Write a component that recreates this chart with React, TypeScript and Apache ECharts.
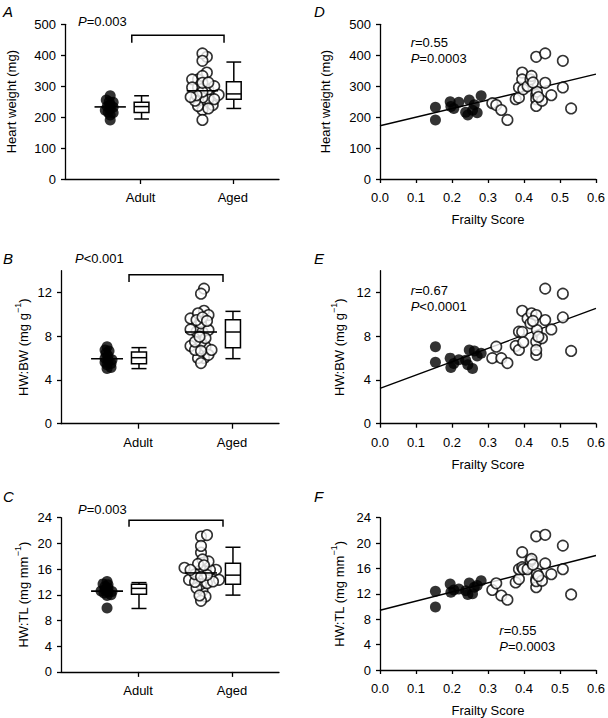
import React, { useEffect, useRef } from "react";
import * as echarts from "echarts";

const FONT = "'Liberation Sans', Arial, Helvetica, sans-serif";

// ---------------- data ----------------
const groupNames = ["Adult", "Aged"];

const frailtyAdult = [0.154, 0.154, 0.195, 0.197, 0.205, 0.219, 0.238, 0.248, 0.244, 0.257, 0.262, 0.27, 0.281];
const heartWeightAdult = [232, 191, 250, 234, 228, 248, 216, 255, 207, 222, 240, 214, 269];
const hwBwAdult = [7.05, 5.63, 6.0, 5.15, 5.5, 5.85, 5.8, 6.75, 5.4, 5.05, 6.66, 6.2, 6.45];
const hwTlAdult = [12.42, 9.93, 13.55, 12.27, 12.6, 12.78, 12.5, 13.7, 11.9, 12.0, 13.04, 13.3, 14.07];

const frailtyAged = [0.312, 0.323, 0.337, 0.354, 0.377, 0.386, 0.386, 0.395, 0.395, 0.398, 0.41, 0.418, 0.421, 0.434, 0.434, 0.434, 0.434, 0.436, 0.45, 0.459, 0.459, 0.476, 0.508, 0.508, 0.531, 0.425, 0.44];
const heartWeightAged = [245, 239, 223, 191, 258, 263, 296, 344, 322, 290, 300, 322, 333, 395, 272, 258, 236, 282, 253, 406, 311, 271, 382, 296, 228, 312, 265];
const hwBwAged = [6.0, 7.05, 6.0, 5.55, 7.12, 6.75, 8.42, 10.33, 8.4, 7.45, 9.63, 9.18, 10.1, 9.94, 7.5, 6.3, 6.75, 8.57, 7.82, 12.36, 9.48, 8.63, 11.9, 9.73, 6.66, 9.4, 7.96];
const hwTlAged = [12.62, 13.66, 11.74, 11.07, 13.8, 14.33, 15.88, 18.57, 16.2, 15.9, 15.88, 17.2, 17.5, 21.06, 14.33, 13.04, 14.0, 15.2, 14.07, 21.3, 16.8, 15.1, 19.6, 15.88, 11.9, 16.6, 14.8];

// box plots: [min, q1, median, q3, max] for Adult, Aged
const boxHeartWeight = [[194, 215, 234, 248, 269], [228, 258, 275, 314, 378]];
const boxHwBw = [[5.04, 5.49, 6.04, 6.56, 6.96], [5.95, 6.96, 8.39, 9.52, 10.28]];
const boxHwTl = [[9.87, 12.1, 13.0, 13.66, 13.9], [11.95, 13.66, 15.06, 16.9, 19.4]];

// median lines drawn through the dot clouds
const dotMedianHeartWeight = [233, 285];
const dotMedianHwBw = [5.95, 8.39];
const dotMedianHwTl = [12.57, 15.4];

// regression fits (intercept, slope) for D, E, F
const fitIntercept = [172, 3.24, 9.41];
const fitSlope = [278, 12.2, 14.4];

// tick labels
const yTicksHeartWeight = [0, 100, 200, 300, 400, 500];
const yTicksHwBw = [0, 4, 8, 12];
const yTicksHwTl = [0, 4, 8, 12, 16, 20, 24];
const frailtyTicks = [0, 0.1, 0.2, 0.3, 0.4, 0.5, 0.6];

// statistics text
const groupP = ["=0.003", "<0.001", "=0.003"];
const corrR = ["=0.55", "=0.67", "=0.55"];
const corrP = ["=0.0003", "<0.0001", "=0.0003"];

// ---------------- layout ----------------
const LEFT_COL = 61;
const RIGHT_COL = 380;
const COL_W = 218;
const ROWS = [
  { top: 24.3, h: 154.7 },
  { top: 270.7, h: 153.0 },
  { top: 517.7, h: 154.2 },
];
const GX_MIN = 0.18;
const GX_MAX = 2.5;
const X_PX = COL_W / (GX_MAX - GX_MIN);
const DOT_SHIFT = -0.33;
const MED_HALF = 0.17;
const BOX_HALF = 0.08;
const BRACKET_X = [0.904, 1.904];

function swarm(values: number[], yScale: number, minDist: number, step: number): number[] {
  const order = values.map((_, i) => i).sort((a, b) => values[a] - values[b]);
  const placed: { o: number; y: number }[] = [];
  const offsets = new Array(values.length).fill(0);
  for (const i of order) {
    const y = values[i] * yScale;
    for (let k = 0; k < 400; k++) {
      const o = (k % 2 === 1 ? 1 : -1) * Math.ceil(k / 2) * step;
      const ok = placed.every((p) => (p.o - o) ** 2 + (p.y - y) ** 2 >= minDist * minDist);
      if (ok) {
        offsets[i] = o;
        placed.push({ o, y });
        break;
      }
    }
  }
  return offsets;
}

const axisLineStyle = { color: "#000", width: 1.3 };
const labelStyle = { color: "#000", fontSize: 13, fontFamily: FONT };

function buildOption() {
  const grids: any[] = [];
  const xAxes: any[] = [];
  const yAxes: any[] = [];
  const series: any[] = [];
  const graphics: any[] = [];

  const panels = [
    { adult: heartWeightAdult, aged: heartWeightAged, box: boxHeartWeight, med: dotMedianHeartWeight, max: 500, ticks: yTicksHeartWeight, name: "Heart weight (mg)", gapL: 44, gapR: 45, bracket: [465, 440] },
    { adult: hwBwAdult, aged: hwBwAged, box: boxHwBw, med: dotMedianHwBw, max: 14, ticks: yTicksHwBw, name: "HW:BW (mg g{sup|\u22121})", gapL: 19, gapR: 31, bracket: [13.64, 12.97] },
    { adult: hwTlAdult, aged: hwTlAged, box: boxHwTl, med: dotMedianHwTl, max: 24, ticks: yTicksHwTl, name: "HW:TL (mg mm{sup|\u22121})", gapL: 26, gapR: 31, bracket: [23.6, 22.6] },
  ];
  const letters = [["A", "D"], ["B", "E"], ["C", "F"]];
  const pTextPos = [[78, 21], [75, 258], [78, 509]];
  const corrPos = [[410.7, 42.5], [410.7, 290.8], [499.3, 630.8]];
  const letterY = [11.7, 258, 496.7];

  panels.forEach((pnl, r) => {
    const row = ROWS[r];
    const gL = r;
    const gR = r + 3;
    grids[gL] = { left: LEFT_COL, top: row.top, width: COL_W, height: row.h };
    grids[gR] = { left: RIGHT_COL, top: row.top, width: COL_W, height: row.h };

    const yAxisBase = (grid: number, gap: number) => ({
      gridIndex: grid,
      type: "value",
      min: 0,
      max: pnl.max,
      axisLine: { show: true, onZero: false, lineStyle: axisLineStyle },
      axisTick: { show: true, customValues: pnl.ticks, length: 4, lineStyle: axisLineStyle },
      axisLabel: { customValues: pnl.ticks, margin: 9, ...labelStyle },
      splitLine: { show: false },
      name: pnl.name,
      nameLocation: "middle",
      nameGap: gap,
      nameTextStyle: {
        ...labelStyle,
        lineHeight: 20,
        rich: { sup: { fontSize: 9, lineHeight: 12, verticalAlign: "top", fontFamily: FONT, color: "#000" } },
      },
    });
    yAxes[gL] = yAxisBase(gL, pnl.gapL);
    yAxes[gR] = yAxisBase(gR, pnl.gapR);

    xAxes[gL] = {
      gridIndex: gL,
      type: "value",
      min: GX_MIN,
      max: GX_MAX,
      axisLine: { show: true, onZero: false, lineStyle: axisLineStyle },
      axisTick: { show: true, customValues: [1, 2], length: 5, lineStyle: axisLineStyle },
      axisLabel: { customValues: [1, 2], margin: 12, formatter: (v: number) => groupNames[Math.round(v) - 1], ...labelStyle },
      splitLine: { show: false },
    };
    xAxes[gR] = {
      gridIndex: gR,
      type: "value",
      min: 0,
      max: 0.6,
      axisLine: { show: true, onZero: false, lineStyle: axisLineStyle },
      axisTick: { show: true, customValues: frailtyTicks, length: 4, lineStyle: axisLineStyle },
      axisLabel: { customValues: frailtyTicks, margin: 12, formatter: (v: number) => v.toFixed(1), ...labelStyle },
      splitLine: { show: false },
      name: "Frailty Score",
      nameLocation: "middle",
      nameGap: 34,
      nameTextStyle: labelStyle,
    };

    // ---- dot plots (left column) ----
    const yScale = row.h / pnl.max;
    const offA = swarm(pnl.adult, yScale, 3.2, 1);
    const offB = swarm(pnl.aged, yScale, 5.5, 1.5);
    series.push({
      type: "scatter",
      xAxisIndex: gL,
      yAxisIndex: gL,
      symbol: "circle",
      symbolSize: 11,
      itemStyle: { color: "#000" },
      data: pnl.adult.map((v, i) => [1 + DOT_SHIFT + offA[i] / X_PX, v]),
      z: 3,
    });
    series.push({
      type: "scatter",
      xAxisIndex: gL,
      yAxisIndex: gL,
      symbol: "circle",
      symbolSize: 10.5,
      itemStyle: { color: "#fff", borderColor: "#000", borderWidth: 1.6 },
      data: pnl.aged.map((v, i) => [2 + DOT_SHIFT + offB[i] / X_PX, v]),
      z: 3,
    });
    // median lines through dots
    series.push({
      type: "custom",
      xAxisIndex: gL,
      yAxisIndex: gL,
      clip: false,
      z: 4,
      encode: { x: 0, y: 1 },
      data: pnl.med.map((m, i) => [i + 1 + DOT_SHIFT, m]),
      renderItem: (_p: any, api: any) => {
        const c = api.value(0);
        const v = api.value(1);
        const a = api.coord([c - MED_HALF, v]);
        const b = api.coord([c + MED_HALF, v]);
        return { type: "line", shape: { x1: a[0], y1: a[1], x2: b[0], y2: b[1] }, style: { stroke: "#000", lineWidth: 1.6 } };
      },
    });
    // box plots
    series.push({
      type: "custom",
      xAxisIndex: gL,
      yAxisIndex: gL,
      clip: false,
      z: 4,
      encode: { x: 0, y: [1, 2, 3, 4, 5] },
      data: pnl.box.map((b, i) => [i + 1.01, ...b]),
      renderItem: (_p: any, api: any) => {
        const x = api.value(0);
        const lo = api.value(1), q1 = api.value(2), md = api.value(3), q3 = api.value(4), hi = api.value(5);
        const L = (y: number) => api.coord([x - BOX_HALF, y]);
        const R = (y: number) => api.coord([x + BOX_HALF, y]);
        const C = (y: number) => api.coord([x, y]);
        const st = { stroke: "#000", lineWidth: 1.5, fill: "none" };
        const seg = (p: number[], q: number[]) => ({ type: "line", shape: { x1: p[0], y1: p[1], x2: q[0], y2: q[1] }, style: st });
        return {
          type: "group",
          children: [
            { type: "rect", shape: { x: L(q3)[0], y: L(q3)[1], width: R(q3)[0] - L(q3)[0], height: L(q1)[1] - L(q3)[1] }, style: { ...st, fill: "#fff" } },
            seg(L(md), R(md)),
            seg(C(q3), C(hi)),
            seg(L(hi), R(hi)),
            seg(C(q1), C(lo)),
            seg(L(lo), R(lo)),
          ],
        };
      },
    });
    // significance bracket
    series.push({
      type: "custom",
      xAxisIndex: gL,
      yAxisIndex: gL,
      clip: false,
      z: 4,
      encode: { x: [0, 1], y: [2, 3] },
      data: [[BRACKET_X[0], BRACKET_X[1], pnl.bracket[0], pnl.bracket[1]]],
      renderItem: (_p: any, api: any) => {
        const x1 = api.value(0), x2 = api.value(1), yt = api.value(2), ye = api.value(3);
        return {
          type: "polyline",
          shape: { points: [api.coord([x1, ye]), api.coord([x1, yt]), api.coord([x2, yt]), api.coord([x2, ye])] },
          style: { stroke: "#000", lineWidth: 1.5, fill: "none" },
        };
      },
    });

    // ---- scatter with regression (right column) ----
    const yR = r === 0 ? [heartWeightAdult, heartWeightAged] : r === 1 ? [hwBwAdult, hwBwAged] : [hwTlAdult, hwTlAged];
    series.push({
      type: "line",
      xAxisIndex: gR,
      yAxisIndex: gR,
      showSymbol: false,
      symbol: "none",
      lineStyle: { color: "#000", width: 1.4 },
      data: [0, 0.6].map((x) => [x, fitIntercept[r] + fitSlope[r] * x]),
      z: 2,
    });
    series.push({
      type: "scatter",
      xAxisIndex: gR,
      yAxisIndex: gR,
      symbol: "circle",
      symbolSize: 11,
      itemStyle: { color: "#000" },
      data: frailtyAdult.map((x, i) => [x, yR[0][i]]),
      z: 3,
    });
    series.push({
      type: "scatter",
      xAxisIndex: gR,
      yAxisIndex: gR,
      symbol: "circle",
      symbolSize: 10.5,
      itemStyle: { color: "#fff", borderColor: "#000", borderWidth: 1.6 },
      data: frailtyAged.map((x, i) => [x, yR[1][i]]),
      z: 3,
    });

    // ---- texts ----
    const rich = { i: { fontStyle: "italic", fontSize: 13, fontFamily: FONT, fill: "#000" } };
    graphics.push({
      type: "text",
      x: pTextPos[r][0],
      y: pTextPos[r][1],
      style: { text: "{i|P}" + groupP[r], rich, fontSize: 13, fontFamily: FONT, fill: "#000", verticalAlign: "middle" },
    });
    graphics.push({
      type: "text",
      x: corrPos[r][0],
      y: corrPos[r][1],
      style: { text: "{i|r}" + corrR[r], rich, fontSize: 13, fontFamily: FONT, fill: "#000", verticalAlign: "middle" },
    });
    graphics.push({
      type: "text",
      x: corrPos[r][0],
      y: corrPos[r][1] + 16,
      style: { text: "{i|P}" + corrP[r], rich, fontSize: 13, fontFamily: FONT, fill: "#000", verticalAlign: "middle" },
    });
    graphics.push({
      type: "text",
      x: 3,
      y: letterY[r],
      style: { text: letters[r][0], fontSize: 15, fontStyle: "italic", fontFamily: FONT, fill: "#000", verticalAlign: "middle" },
    });
    graphics.push({
      type: "text",
      x: 314,
      y: letterY[r],
      style: { text: letters[r][1], fontSize: 15, fontStyle: "italic", fontFamily: FONT, fill: "#000", verticalAlign: "middle" },
    });
  });

  return {
    animation: false,
    backgroundColor: "#fff",
    textStyle: { fontFamily: FONT, color: "#000" },
    grid: grids,
    xAxis: xAxes,
    yAxis: yAxes,
    series,
    graphic: graphics,
  };
}

export default function App() {
  const ref = useRef<HTMLDivElement>(null);
  useEffect(() => {
    if (!ref.current) return;
    const chart = echarts.init(ref.current, undefined, { renderer: "svg" });
    chart.setOption(buildOption() as any);
    return () => chart.dispose();
  }, []);
  return (
    <div
      ref={ref}
      style={{ position: "absolute", left: 0, top: 0, width: 608, height: 718, background: "#fff" }}
    />
  );
}
